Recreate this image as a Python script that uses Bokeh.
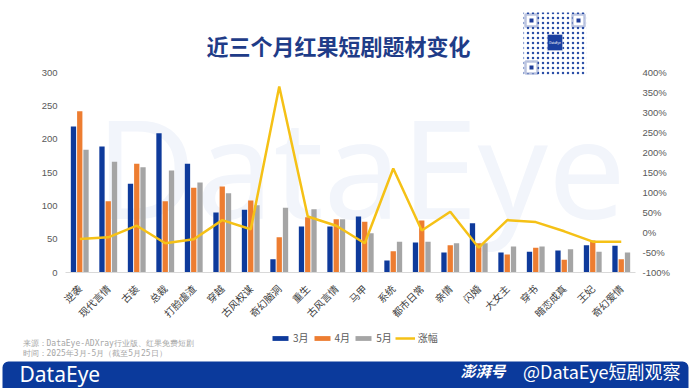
from math import pi
from bokeh.plotting import figure
from bokeh.layouts import column
from bokeh.models import (FactorRange, Range1d, LinearAxis, FixedTicker, PrintfTickFormatter,
                          Label, BoxAnnotation, Legend, LegendItem, ColumnDataSource)
from bokeh.transform import dodge
from bokeh.embed import file_html
from bokeh.resources import INLINE

categories = ["逆袭", "现代言情", "古装", "总裁", "打脸虐渣", "穿越", "古风权谋", "奇幻脑洞", "重生", "古风言情",
              "马甲", "系统", "都市日常", "亲情", "闪婚", "大女主", "穿书", "暗恋成真", "王妃", "奇幻爱情"]
march = [219, 189, 133, 209, 163, 90, 94, 20, 69, 69, 84, 18, 45, 30, 74, 30, 31, 33, 41, 40]
april = [242, 107, 163, 107, 127, 129, 108, 53, 83, 80, 76, 32, 78, 41, 44, 27, 37, 19, 48, 20]
may = [184, 166, 158, 153, 135, 119, 101, 97, 95, 80, 59, 46, 46, 44, 44, 39, 39, 35, 31, 30]
change_pct = [-16, -12, 17, -27, -17, 31, 8, 365, 40, 17, -27, 160, 5, 52, -38, 31, 26, 3, -23, -23]
left_ticks = [0, 50, 100, 150, 200, 250, 300]
right_ticks = [-100, -50, 0, 50, 100, 150, 200, 250, 300, 350, 400]
series_names = ["3月", "4月", "5月", "涨幅"]

BLUE = "#0E3A9B"
ORANGE = "#ED7D31"
GRAY = "#A5A5A5"
GOLD = "#F5C116"
CJK = "Noto Sans CJK SC"
W = 690

src = ColumnDataSource(dict(cat=categories, mar=march, apr=april, may=may, chg=change_pct))

# ---------------- main chart (frame extends up to the top to host title + badge) ----------------
p = figure(width=W, height=330, x_range=FactorRange(factors=categories), y_range=Range1d(0, 408),
           output_backend="svg", toolbar_location=None,
           min_border_left=65, min_border_right=55, min_border_top=0, min_border_bottom=58)
p.frame_align = False
p.outline_line_color = None
p.xgrid.visible = False
p.ygrid.visible = False
p.extra_y_ranges = {"pct": Range1d(-100, 580)}

# watermark
p.add_layout(Label(x=30, y=14, x_units="screen", y_units="screen", text="DataEye",
                   text_font="Noto Sans", text_font_size="138px", text_color="#F2F5FB",
                   level="underlay"))

r1 = p.vbar(x=dodge("cat", -0.22, range=p.x_range), top="mar", width=0.186, source=src,
            fill_color=BLUE, line_color=None)
r2 = p.vbar(x=dodge("cat", 0.0, range=p.x_range), top="apr", width=0.186, source=src,
            fill_color=ORANGE, line_color=None)
r3 = p.vbar(x=dodge("cat", 0.22, range=p.x_range), top="may", width=0.186, source=src,
            fill_color=GRAY, line_color=None)
r4 = p.line(x="cat", y="chg", source=src, y_range_name="pct", line_color=GOLD, line_width=2.5)

xa = p.xaxis[0]
xa.axis_line_color = "#D9D9D9"
xa.major_tick_line_color = None
xa.minor_tick_line_color = None
xa.major_tick_out = 0
xa.major_tick_in = 0
xa.major_label_orientation = pi / 4
xa.major_label_text_font = CJK
xa.major_label_text_font_size = "10px"
xa.major_label_text_color = "#404040"
xa.major_label_standoff = 14

ya = p.yaxis[0]
ya.ticker = FixedTicker(ticks=left_ticks)
ya.axis_line_color = None
ya.major_tick_line_color = None
ya.minor_tick_line_color = None
ya.major_tick_out = 0
ya.major_tick_in = 0
ya.major_label_text_font = "Liberation Sans"
ya.major_label_text_font_size = "9.5px"
ya.major_label_text_color = "#595959"
ya.major_label_standoff = 8

ra = LinearAxis(y_range_name="pct", ticker=FixedTicker(ticks=right_ticks),
                formatter=PrintfTickFormatter(format="%d%%"))
ra.axis_line_color = None
ra.major_tick_line_color = None
ra.minor_tick_line_color = None
ra.major_tick_out = 0
ra.major_tick_in = 0
ra.major_label_text_font = "Liberation Sans"
ra.major_label_text_font_size = "9.5px"
ra.major_label_text_color = "#595959"
ra.major_label_standoff = 7
p.add_layout(ra, "right")

# title
p.add_layout(Label(x=273, y=228, x_units="screen", y_units="screen", text="近三个月红果短剧题材变化",
                   text_align="center", text_baseline="middle", text_font=CJK,
                   text_font_size="22px", text_font_style="bold", text_color="#1F3C88"))

# QR-like badge
def sbox(l, r, t, b, **kw):
    return BoxAnnotation(left=l, right=r, top=t, bottom=b, left_units="screen", right_units="screen",
                         top_units="screen", bottom_units="screen", **kw)

p.add_layout(sbox(458, 521, 260, 197, fill_color="white", fill_alpha=1, line_color=None,
                  hatch_pattern="dot", hatch_color="#2B4FA8", hatch_scale=5, hatch_weight=2.5))
for (l, t) in [(460, 258), (507, 258), (460, 211)]:
    p.add_layout(sbox(l, l + 12, t, t - 12, fill_color="white", fill_alpha=1,
                      line_color="#1F3C99", line_width=2.5))
    p.add_layout(sbox(l + 4, l + 8, t - 4, t - 8, fill_color="#1F3C99", fill_alpha=1, line_color=None))
p.add_layout(sbox(482, 497, 238, 222, fill_color="#1A3FA0", fill_alpha=1, line_color="white", line_width=1))
p.add_layout(Label(x=489.5, y=230, x_units="screen", y_units="screen", text="DataEye",
                   text_align="center", text_baseline="middle", text_font="Noto Sans",
                   text_font_size="3px", text_color="white"))

# ---------------- footer: legend, source notes, brand band ----------------
FH = 58
f = figure(width=W, height=FH, x_range=Range1d(0, W), y_range=Range1d(0, FH),
           x_axis_type=None, y_axis_type=None, output_backend="svg", toolbar_location=None,
           min_border=0)
f.frame_align = False
f.outline_line_color = None
f.xgrid.visible = False
f.ygrid.visible = False

# zero-size stand-ins carrying the series styles for the legend
e1 = f.vbar(x=[0], top=[0], width=0, fill_color=BLUE, line_color=None)
e2 = f.vbar(x=[0], top=[0], width=0, fill_color=ORANGE, line_color=None)
e3 = f.vbar(x=[0], top=[0], width=0, fill_color=GRAY, line_color=None)
e4 = f.line(x=[0], y=[0], line_color=GOLD, line_width=2.5)
legend = Legend(items=[LegendItem(label=series_names[0], renderers=[e1]),
                       LegendItem(label=series_names[1], renderers=[e2]),
                       LegendItem(label=series_names[2], renderers=[e3]),
                       LegendItem(label=series_names[3], renderers=[e4])],
                location=(270, 43), orientation="horizontal", padding=0, margin=0, spacing=3,
                label_standoff=3, label_width=14, glyph_width=20, glyph_height=6, label_height=12,
                label_text_font=CJK, label_text_font_size="10px", label_text_color="#595959",
                background_fill_alpha=0, border_line_color=None)
f.add_layout(legend)

f.add_layout(Label(x=22, y=45, text="来源：DataEye-ADXray行业版、红果免费短剧", text_baseline="middle",
                   text_font="DejaVu Sans Mono", text_font_size="8px", text_color="#A6A6A6"))
f.add_layout(Label(x=22, y=35, text="时间：2025年3月-5月（截至5月25日）", text_baseline="middle",
                   text_font="DejaVu Sans Mono", text_font_size="8px", text_color="#A6A6A6"))

f.add_layout(BoxAnnotation(left=2, right=688, top=27, bottom=-10, fill_color="#0B3A9C", fill_alpha=1,
                           line_color=None, border_radius=6))
f.add_layout(Label(x=19, y=15, text="DataEye", text_baseline="middle", text_font="Noto Sans",
                   text_font_size="21px", text_color="white"))
f.add_layout(Label(x=505, y=18, text="澎湃号", text_align="right", text_baseline="middle",
                   text_font=CJK, text_font_size="15px", text_font_style="bold italic",
                   text_color="white"))
f.add_layout(Label(x=680, y=18, text="@DataEye短剧观察", text_align="right", text_baseline="middle",
                   text_font=CJK, text_font_size="18px", text_color="white"))

layout = column(p, f, spacing=0)
open("out.html", "w").write(file_html(layout, INLINE))
